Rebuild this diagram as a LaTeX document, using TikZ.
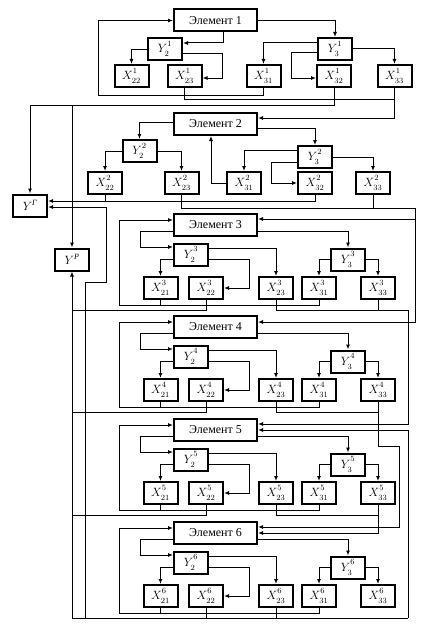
\documentclass[tikz,border=0pt]{standalone}
\usepackage{fontspec}
\setmainfont{Liberation Serif}
\usetikzlibrary{arrows.meta}
\newcommand{\lab}[3]{$#1^{\raisebox{2pt}{$\scriptstyle #3$}}_{\raisebox{-1.5pt}{$\scriptstyle #2$}}$}
\newcommand{\cyrsup}[1]{\raisebox{1pt}{\fontsize{8}{8}\selectfont\itshape #1}}
\begin{document}
\begin{tikzpicture}[x=1pt,y=-1pt,
  box/.style={draw, line width=2pt, minimum width=34pt, minimum height=22pt, inner sep=0pt, font=\fontsize{12}{14}\selectfont, fill=white},
  elbox/.style={box, minimum width=83pt},
  conn/.style={line width=1pt},
  arr/.style={conn, -{Latex[length=5pt,width=4pt]}}]
\useasboundingbox (0,0) rectangle (422,626);

% ---------- Element 1 ----------
\node[elbox] (E1) at (215.5,20.5) {Элемент 1};
\node[box] (Yb1) at (165,49) {\lab{Y}{2}{1}};
\node[box] (Yc1) at (335,49) {\lab{Y}{3}{1}};
\node[box] (Xb1) at (131.5,76) {\lab{X}{22}{1}};
\node[box] (Xc1) at (184.5,76) {\lab{X}{23}{1}};
\node[box] (Xd1) at (263.5,76) {\lab{X}{31}{1}};
\node[box] (Xf1) at (334,76) {\lab{X}{32}{1}};
\node[box] (Xe1) at (394.5,76) {\lab{X}{33}{1}};

% ---------- Element 2 ----------
\node[elbox] (E2) at (215.5,124) {Элемент 2};
\node[box] (Yb2) at (139.5,151) {\lab{Y}{2}{2}};
\node[box] (Yc2) at (315,157) {\lab{Y}{3}{2}};
\node[box] (Xb2) at (105,183) {\lab{X}{22}{2}};
\node[box] (Xc2) at (181.5,183) {\lab{X}{23}{2}};
\node[box] (Xd2) at (244,183) {\lab{X}{31}{2}};
\node[box] (Xf2) at (315,183) {\lab{X}{32}{2}};
\node[box] (Xe2) at (373,183) {\lab{X}{33}{2}};

% ---------- Y^G, Y^P ----------
\node[box] (YG) at (30,205.5) {$Y^{\cyrsup{Г}}$};
\node[box] (YP) at (72,259.5) {$Y^{\cyrsup{Р}}$};

% ---------- Elements 3..6 ----------
\foreach \k/\T in {3/214,4/316,5/419,6/522}{
  \node[elbox] (E\k) at (215.5,\T+11) {Элемент \k};
  \node[box] (Yb\k) at (191,\T+40.5) {\lab{Y}{2}{\k}};
  \node[box] (Yc\k) at (348,\T+45.5) {\lab{Y}{3}{\k}};
  \node[box] (Xa\k) at (160.5,\T+74) {\lab{X}{21}{\k}};
  \node[box] (Xb\k) at (206,\T+74) {\lab{X}{22}{\k}};
  \node[box] (Xc\k) at (276,\T+74) {\lab{X}{23}{\k}};
  \node[box] (Xd\k) at (319,\T+74) {\lab{X}{31}{\k}};
  \node[box] (Xe\k) at (378,\T+74) {\lab{X}{33}{\k}};
  \draw[arr] (E\k.west |- 0,\T+17) -- (140,\T+17) |- (Yb\k.west |- 0,\T+33);
  \draw[arr] (E\k.east |- 0,\T+17) -| (Yc\k.north);
  \draw[arr] (Yb\k.east |- 0,\T+34) -| (Xc\k.north);
  \draw[arr] (Yb\k.east |- 0,\T+45) -- (249,\T+45) |- (Xb\k.east);
  \draw[arr] (Yb\k.west |- 0,\T+45) -| (Xa\k.north);
  \draw[arr] (Yc\k.west) -| (Xd\k.north);
  \draw[arr] (Yc\k.east) -| (Xe\k.north);
  \draw[arr] (Xd\k.south) |- (119,\T+91) |- (E\k.west |- 0,\T+6);
  \draw[conn] (Xa\k.south) -- (Xa\k.south |- 0,\T+91);
  \draw[conn] (Xb\k.south) |- (72,\T+96);
  \draw[conn] (Xc\k.south) |- (Xe\k.south |- 0,\T+96);
}

% ---------- Element 1 connectors ----------
\draw[arr] (E1.east) -| (Yc1.north);
\draw[arr] (E1.south -| 223,0) |- (Yb1.east |- 0,43);
\draw[arr] (Yb1.west |- 0,50) -| (Xb1.north);
\draw[arr] (Yb1.east |- 0,54) -- (222,54) |- (Xc1.east |- 0,78);
\draw[arr] (Yc1.west |- 0,43) -| (Xd1.north);
\draw[arr] (Yc1.west |- 0,53) -- (291,53) |- (Xf1.west |- 0,78);
\draw[arr] (Yc1.east) -| (Xe1.north);
\draw[arr] (Xd1.south) |- (98,95) |- (E1.west);
\draw[conn] (Xc1.south) |- (Xe1.south |- 0,99);
\draw[arr] (Xe1.south) |- (E2.east |- 0,118);
\draw[arr] (Xf1.south) |- (YG.north |- 0,105) -- (YG.north);
\draw[arr] (YP.north |- 0,105) -- (YP.north);

% ---------- Element 2 connectors ----------
\draw[arr] (E2.west |- 0,122) -| (Yb2.north);
\draw[arr] (E2.east |- 0,128) -| (Yc2.north);
\draw[arr] (Yb2.west) -| (Xb2.north);
\draw[arr] (Yb2.east) -| (Xc2.north);
\draw[arr] (Yc2.west |- 0,150) -| (Xd2.north);
\draw[arr] (Yc2.west |- 0,162) -- (271,162) |- (Xf2.west);
\draw[arr] (Yc2.east) -| (Xe2.north);
\draw[arr] (Xd2.west) -| (E2.south -| 211,0);
\draw[conn] (Xb2.south) -- (Xb2.south |- 0,201);
\draw[arr] (Xf2.south) |- (YG.east |- 0,201);
\draw[conn] (Xc2.south) |- (415,208);
\coordinate (B2) at (415,219);
\draw[arr] (Xe2.south) |- (415,208) |- (E4.east |- 0,322);
\draw[arr] (B2) -- (E3.east |- B2);

% ---------- Inter-element connectors ----------
\draw[arr] (Xe3.south) |- (408,310) |- (E5.east |- 0,424);
\draw[arr] (Xe4.south) |- (399,446) |- (E6.east |- 0,527);
\draw[arr] (Xe5.south) |- (E6.east |- 0,533);
\coordinate (BL) at (72,618);
\coordinate (BR) at (408,618);
\coordinate (BM) at (85,618);
\draw[conn] (BL) -- (BR);
\draw[arr] (BR) |- (E5.east |- 0,430);
\draw[arr] (BL) -- (YP.south);
\draw[arr] (BM) |- (106,282) |- (YG.east |- 0,207);
\end{tikzpicture}
\end{document}
